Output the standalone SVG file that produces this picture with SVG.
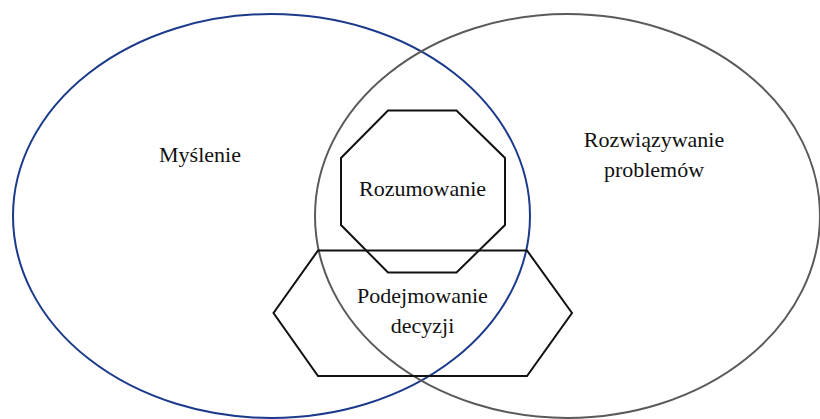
<svg xmlns="http://www.w3.org/2000/svg" width="820" height="419" viewBox="0 0 820 419">
  <style>
    .shape { fill: none; stroke-width: 2; stroke-linejoin: miter; }
    .label { font-family: "Liberation Serif", "Times New Roman", serif; font-size: 22px; fill: #111; text-anchor: middle; }
  </style>
  <rect width="820" height="419" fill="#fff"/>
  <g id="myslenie">
    <ellipse class="shape" cx="271.5" cy="216" rx="258.5" ry="202" stroke="#1c3a8c"/>
    <text class="label" x="200" y="162">Myślenie</text>
  </g>
  <g id="rozwiazywanie-problemow">
    <ellipse class="shape" cx="567.5" cy="216" rx="252.5" ry="202" stroke="#5a5a5a"/>
    <text class="label" x="654" y="147">Rozwiązywanie</text>
    <text class="label" x="654" y="177">problemów</text>
  </g>
  <g id="rozumowanie">
    <polygon class="shape" stroke="#111" points="388,110.5 456.5,110.5 505,158 505,225 456.5,272.5 388,272.5 341,225 341,158"/>
    <text class="label" x="422.5" y="196">Rozumowanie</text>
  </g>
  <g id="podejmowanie-decyzji">
    <polygon class="shape" stroke="#111" points="318,250.5 527,250.5 572,313 527,376 318,376 273.5,313"/>
    <text class="label" x="422.5" y="303">Podejmowanie</text>
    <text class="label" x="422.5" y="333">decyzji</text>
  </g>
</svg>
